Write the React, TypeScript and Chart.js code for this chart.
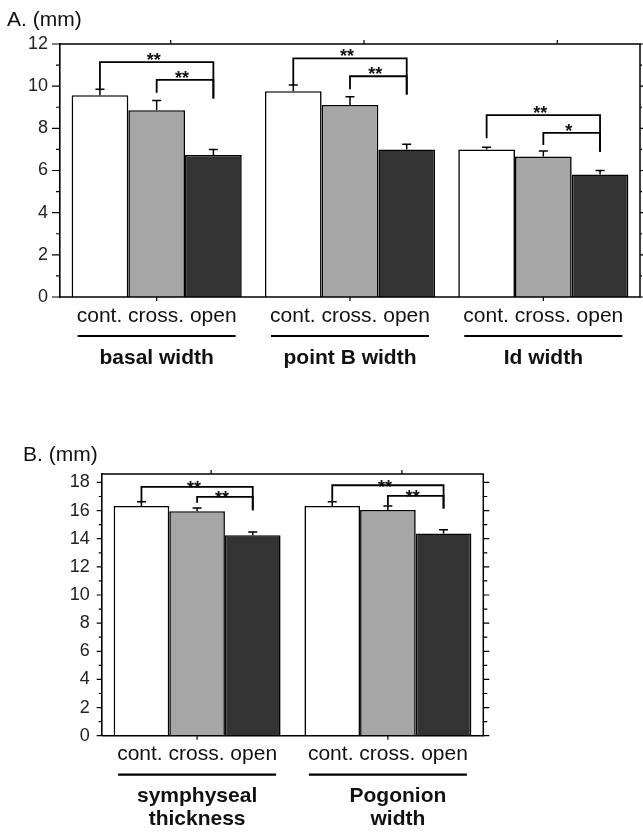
import React, { useEffect, useRef } from 'react';
import { Chart, registerables } from 'chart.js';
Chart.register(...registerables);

// ---------- shared ----------
const conditions = ['cont.', 'cross.', 'open'];
const barColors = ['#ffffff', '#a6a6a6', '#333333'];

// ---------- panel A ----------
const titleA = 'A. (mm)';
const groupsA = [['basal width'], ['point B width'], ['Id width']];
const contA = [9.57, 9.76, 7.0];
const crossA = [8.86, 9.11, 6.66];
const openA = [6.74, 7.0, 5.81];
const contErrA = [0.28, 0.29, 0.1];
const crossErrA = [0.46, 0.39, 0.27];
const openErrA = [0.26, 0.25, 0.19];
const yMaxA = 12;
// bracket: group, from bar, to bar, level, left leg end, right leg end, label
const bracketsA = [
  [0, 0, 2, 11.14, 9.85, 9.41, '**'],
  [0, 1, 2, 10.3, 9.69, 9.41, '**'],
  [1, 0, 2, 11.32, 10.06, 9.61, '**'],
  [1, 1, 2, 10.47, 9.85, 9.61, '**'],
  [2, 0, 2, 8.63, 7.53, 6.89, '**'],
  [2, 1, 2, 7.78, 7.21, 6.89, '*'],
];

// ---------- panel B ----------
const titleB = 'B. (mm)';
const groupsB = [['symphyseal', 'thickness'], ['Pogonion', 'width']];
const contB = [16.33, 16.33];
const crossB = [15.96, 16.05];
const openB = [14.25, 14.37];
const contErrB = [0.29, 0.29];
const crossErrB = [0.23, 0.28];
const openErrB = [0.22, 0.26];
const yMaxB = 18.6;
const bracketsB = [
  [0, 0, 2, 17.68, 16.55, 16.03, '**'],
  [0, 1, 2, 16.97, 16.55, 16.03, '**'],
  [1, 0, 2, 17.8, 16.62, 16.15, '**'],
  [1, 1, 2, 17.05, 16.38, 16.15, '**'],
];

const FONT = 'Arial, "Liberation Sans", Helvetica, sans-serif';

type PanelCfg = {
  title: string;
  titleX: number;
  titleY: number;
  groups: string[][];
  values: number[][];
  errors: number[][];
  brackets: any[];
  yMax: number;
  padding: { left: number; right: number; top: number; bottom: number };
  majorLen: number;
  minorLen: number;
  rightLen: number;
  starSize: number;
  starDrop: number;
  catPct: number;
  width: number;
  height: number;
  top: number;
};

function makeOverlay(cfg: PanelCfg) {
  return {
    id: 'overlay',
    afterDatasetsDraw(chart: any) {
      const { ctx, chartArea: ca, scales } = chart;
      const ys = scales.y;
      ctx.save();
      ctx.strokeStyle = '#000';
      ctx.fillStyle = '#111';
      ctx.lineCap = 'butt';

      // error bars
      cfg.errors.forEach((errs, di) => {
        const meta = chart.getDatasetMeta(di);
        meta.data.forEach((bar: any, j: number) => {
          const v = cfg.values[di][j];
          const top = ys.getPixelForValue(v + errs[j]);
          const base = ys.getPixelForValue(v);
          ctx.lineWidth = 1.5;
          ctx.beginPath();
          ctx.moveTo(bar.x, base);
          ctx.lineTo(bar.x, top);
          ctx.moveTo(bar.x - 4.5, top);
          ctx.lineTo(bar.x + 4.5, top);
          ctx.stroke();
        });
      });

      // frame: top, right, bottom
      ctx.lineWidth = 1.5;
      ctx.beginPath();
      ctx.moveTo(ca.left, ca.top);
      ctx.lineTo(ca.right, ca.top);
      ctx.lineTo(ca.right, ca.bottom);
      ctx.lineTo(ca.left, ca.bottom);
      ctx.stroke();

      // y tick marks
      ctx.lineWidth = 1.2;
      for (let v = 0; v <= Math.floor(cfg.yMax + 1e-9); v++) {
        const py = ys.getPixelForValue(v);
        const len = v % 2 === 0 ? cfg.majorLen : cfg.minorLen;
        ctx.beginPath();
        ctx.moveTo(ca.left - len, py);
        ctx.lineTo(ca.left, py);
        ctx.moveTo(ca.right, py);
        ctx.lineTo(ca.right + (v % 2 === 0 ? cfg.rightLen : cfg.rightLen - 2), py);
        ctx.stroke();
      }
      // x tick marks at category centres
      const xs = scales.x;
      cfg.groups.forEach((_, g) => {
        const px = xs.getPixelForValue(g);
        ctx.beginPath();
        ctx.moveTo(px, ca.bottom);
        ctx.lineTo(px, ca.bottom + 4);
        ctx.moveTo(px + 14, ca.top);
        ctx.lineTo(px + 14, ca.top - 4);
        ctx.stroke();
      });

      // brackets
      cfg.brackets.forEach((b) => {
        const [g, from, to, level, lEnd, rEnd, label] = b;
        const x1 = chart.getDatasetMeta(from).data[g].x;
        const x2 = chart.getDatasetMeta(to).data[g].x;
        const yl = ys.getPixelForValue(level);
        ctx.font = `bold ${cfg.starSize}px ${FONT}`;
        ctx.textAlign = 'center';
        ctx.textBaseline = 'alphabetic';
        ctx.fillStyle = '#111';
        ctx.fillText(label, (x1 + x2) / 2 - 3, yl + cfg.starDrop);
        ctx.lineWidth = 1.8;
        ctx.beginPath();
        ctx.moveTo(x1, ys.getPixelForValue(lEnd));
        ctx.lineTo(x1, yl);
        ctx.lineTo(x2, yl);
        ctx.lineTo(x2, ys.getPixelForValue(rEnd));
        ctx.stroke();
      });

      // title
      ctx.font = `21px ${FONT}`;
      ctx.textAlign = 'left';
      ctx.textBaseline = 'middle';
      ctx.fillStyle = '#111';
      ctx.fillText(cfg.title, cfg.titleX, cfg.titleY);

      // category labels, underline, group names
      cfg.groups.forEach((lines, g) => {
        const px = xs.getPixelForValue(g);
        ctx.font = `21px ${FONT}`;
        ctx.textAlign = 'center';
        ctx.textBaseline = 'middle';
        ctx.fillStyle = '#111';
        ctx.fillText(conditions.join(' '), px, ca.bottom + 19);
        ctx.lineWidth = 2.2;
        ctx.beginPath();
        ctx.moveTo(px - 79, ca.bottom + 39);
        ctx.lineTo(px + 79, ca.bottom + 39);
        ctx.stroke();
        ctx.font = `bold 21px ${FONT}`;
        lines.forEach((t, k) => {
          ctx.fillText(t, px + (g === 1 && lines.length > 1 ? 10 : 0), ca.bottom + 61 + k * 23);
        });
      });
      ctx.restore();
    },
  };
}

function Panel({ cfg }: { cfg: PanelCfg }) {
  const ref = useRef<HTMLCanvasElement>(null);
  useEffect(() => {
    const chart = new Chart(ref.current as HTMLCanvasElement, {
      type: 'bar',
      data: {
        labels: cfg.groups.map((g) => g.join(' ')),
        datasets: cfg.values.map((vals, i) => ({
          label: conditions[i],
          data: vals,
          backgroundColor: barColors[i],
          borderColor: '#000',
          borderWidth: 1.6,
          categoryPercentage: cfg.catPct,
          barPercentage: 1,
        })),
      },
      options: {
        animation: false,
        responsive: false,
        maintainAspectRatio: false,
        layout: { padding: cfg.padding },
        plugins: { legend: { display: false }, tooltip: { enabled: false }, title: { display: false } },
        scales: {
          x: { type: 'category', display: false, offset: true },
          y: {
            min: 0,
            max: cfg.yMax,
            afterFit: (s: any) => {
              s.width = 50;
            },
            grid: { display: false, drawTicks: false },
            border: { display: true, color: '#000', width: 1.6 },
            ticks: {
              stepSize: 2,
              includeBounds: false,
              padding: 12,
              color: '#222',
              font: { family: FONT, size: 18 },
            },
          },
        },
      },
      plugins: [makeOverlay(cfg)],
    } as any);
    return () => chart.destroy();
  }, []);
  return (
    <canvas
      ref={ref}
      width={cfg.width}
      height={cfg.height}
      style={{ position: 'absolute', left: 0, top: cfg.top, width: cfg.width, height: cfg.height }}
    />
  );
}

const cfgA: PanelCfg = {
  title: titleA,
  titleX: 7,
  titleY: 20,
  groups: groupsA,
  values: [contA, crossA, openA],
  errors: [contErrA, crossErrA, openErrA],
  brackets: bracketsA,
  yMax: yMaxA,
  padding: { left: 10, right: 3, top: 44, bottom: 83 },
  majorLen: 8,
  minorLen: 4,
  rightLen: 4,
  starSize: 18,
  starDrop: 3.7,
  catPct: 0.88,
  width: 643,
  height: 380,
  top: 0,
};

const cfgB: PanelCfg = {
  title: titleB,
  titleX: 23,
  titleY: 15,
  groups: groupsB,
  values: [contB, crossB, openB],
  errors: [contErrB, crossErrB, openErrB],
  brackets: bracketsB,
  yMax: yMaxB,
  padding: { left: 51.7, right: 159.7, top: 34, bottom: 97.3 },
  majorLen: 5,
  minorLen: 3,
  rightLen: 6,
  starSize: 18,
  starDrop: 7.5,
  catPct: 0.875,
  width: 643,
  height: 393,
  top: 440,
};

export default function App() {
  return (
    <div style={{ position: 'absolute', left: 0, top: 0, width: 643, height: 833, background: '#fff' }}>
      <Panel cfg={cfgA} />
      <Panel cfg={cfgB} />
    </div>
  );
}
